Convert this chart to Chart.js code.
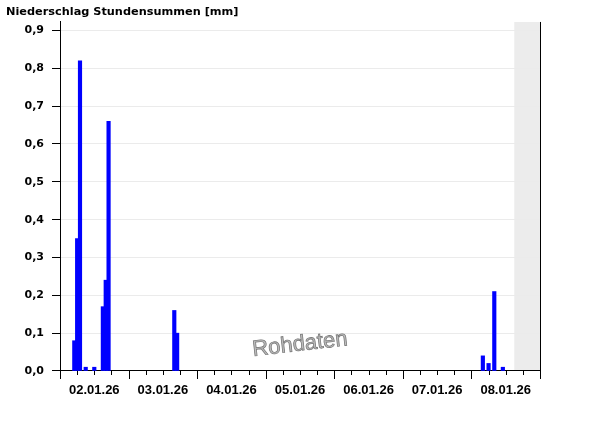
<!DOCTYPE html>
<html>
<head>
<meta charset="utf-8">
<title>Niederschlag Stundensummen</title>
<script src="https://cdn.jsdelivr.net/npm/chart.js@4/dist/chart.umd.min.js"></script>
<style>
    html, body { margin: 0; padding: 0; background: #fff; }
    #wrap { width: 600px; height: 426px; }
</style>
</head>
<body>
<div id="wrap"><canvas id="rainChart" width="600" height="426"></canvas></div>
<script>
// --- DATA (hours counted from 02.01.26 00:00) ---
const dayLabels = ['02.01.26', '03.01.26', '04.01.26', '05.01.26', '06.01.26', '07.01.26', '08.01.26'];
const rainHours = [5, 6, 7, 9, 12, 15, 16, 17, 40, 41, 148, 150, 152, 155];
const rainValues = [0.08, 0.35, 0.82, 0.01, 0.01, 0.17, 0.24, 0.66, 0.16, 0.10, 0.04, 0.02, 0.21, 0.01];
const yTicks = [0, 0.1, 0.2, 0.3, 0.4, 0.5, 0.6, 0.7, 0.8, 0.9];
const nowHour = 159;      // no data after this (grey)
const totalHours = 168;

const boldFont = { family: 'DejaVu Sans', size: 11, weight: 'bold' };
const dateFont = { family: 'Liberation Sans', size: 13, weight: 'bold' };

// grey "future" band + right frame line + x tick marks + watermark
const decorPlugin = {
    id: 'decor',
    beforeDraw(chart) {
        const { ctx, chartArea } = chart;
        const x = chart.scales.x;
        const from = x.getPixelForValue(nowHour);
        ctx.save();
        ctx.fillStyle = '#ececec';
        ctx.fillRect(from, chartArea.top, chartArea.right - from, chartArea.bottom - chartArea.top);
        ctx.restore();
    },
    afterDatasetsDraw(chart) {
        const { ctx } = chart;
        const x = chart.scales.x;
        const y = chart.scales.y;

        // watermark
        ctx.save();
        ctx.translate(x.getPixelForValue(84), y.getPixelForValue(0.07));
        ctx.rotate(-6.5 * Math.PI / 180);
        ctx.font = '22px "Liberation Sans", Arial, sans-serif';
        ctx.textAlign = 'center';
        ctx.textBaseline = 'middle';
        ctx.fillStyle = '#bdbdbd';
        ctx.fillText('Rohdaten', 0, 0);
        ctx.lineWidth = 0.8;
        ctx.strokeStyle = '#7a7a7a';
        ctx.strokeText('Rohdaten', 0, 0);
        ctx.restore();
    },
    afterDraw(chart) {
        const { ctx, chartArea } = chart;
        const x = chart.scales.x;
        ctx.save();
        ctx.strokeStyle = '#000';
        ctx.lineWidth = 1;
        ctx.beginPath();
        // right frame
        ctx.moveTo(chartArea.right + 0.5, chartArea.top);
        ctx.lineTo(chartArea.right + 0.5, chartArea.bottom);
        // ticks: long ones at midnight, short ones every 6 hours
        for (let h = 0; h <= totalHours; h += 6) {
            const px = Math.round(x.getPixelForValue(h)) + 0.5;
            const len = h % 24 === 0 ? 8 : 4;
            ctx.moveTo(px, chartArea.bottom);
            ctx.lineTo(px, chartArea.bottom + len);
        }
        ctx.stroke();
        ctx.restore();
    }
};

new Chart(document.getElementById('rainChart'), {
    type: 'bar',
    data: {
        datasets: [{
            label: 'Niederschlag',
            data: rainHours.map((h, i) => ({ x: h, y: rainValues[i] })),
            backgroundColor: '#0000ff',
            borderWidth: 0,
            barThickness: 3.5
        }]
    },
    options: {
        responsive: false,
        animation: false,
        layout: { padding: { left: 6, right: 60, top: 0, bottom: 0 } },
        plugins: {
            legend: { display: false },
            tooltip: { enabled: false },
            title: {
                display: true,
                text: 'Niederschlag Stundensummen [mm]',
                align: 'start',
                color: '#000',
                font: { family: 'DejaVu Sans', size: 11.3, weight: 'bold', lineHeight: 1.2 },
                padding: { top: 5, bottom: 3.4 }
            }
        },
        scales: {
            x: {
                type: 'linear',
                offset: false,
                min: 0,
                max: totalHours,
                grid: { display: false, offset: false },
                border: { display: true, color: '#000', width: 1 },
                ticks: {
                    stepSize: 12,
                    autoSkip: false,
                    maxRotation: 0,
                    padding: 4,
                    color: '#000',
                    font: dateFont,
                    callback: v => (v % 24 === 12 ? dayLabels[(v - 12) / 24] : '')
                },
                afterFit: s => { s.height = 55; }
            },
            y: {
                min: 0,
                max: 0.9225,
                grid: { color: '#ebebeb', tickColor: '#000', tickLength: 8 },
                border: { display: true, color: '#000', width: 1 },
                afterBuildTicks: s => { s.ticks = yTicks.map(v => ({ value: v })); },
                ticks: {
                    padding: 8,
                    color: '#000',
                    font: boldFont,
                    callback: v => v.toFixed(1).replace('.', ',')
                },
                afterFit: s => { s.width = 54; }
            }
        }
    },
    plugins: [decorPlugin]
});
</script>
</body>
</html>
